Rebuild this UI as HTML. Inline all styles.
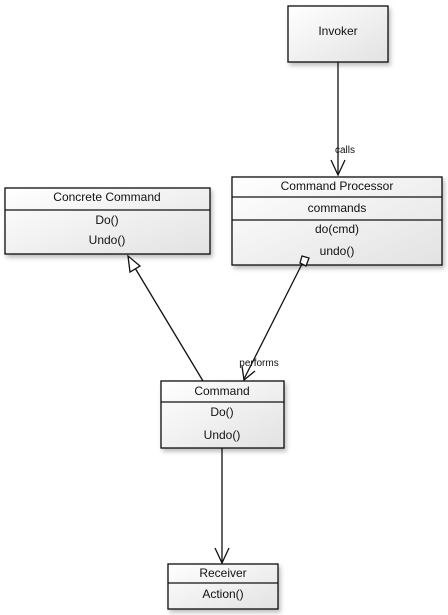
<!DOCTYPE html>
<html><head><meta charset="utf-8"><style>
html,body{margin:0;padding:0;background:#fff;width:448px;height:615px;overflow:hidden}
svg{display:block}
text{font-family:"Liberation Sans",sans-serif;font-size:12px;fill:#111;text-anchor:middle}
</style></head><body>
<svg width="448" height="615" viewBox="0 0 448 615">
<defs>
<linearGradient id="g" x1="0" y1="0" x2="1" y2="1"><stop offset="0" stop-color="#fff"/><stop offset="1" stop-color="#e2e2e2"/></linearGradient>
<filter id="s" x="-10%" y="-10%" width="130%" height="130%"><feDropShadow dx="2" dy="3" stdDeviation="2" flood-color="#000" flood-opacity="0.25"/></filter>
</defs>
<g stroke="#111" stroke-width="1.3" fill="url(#g)">
<!-- Invoker -->
<rect x="288" y="6" width="100" height="56" filter="url(#s)"/>
<!-- Concrete Command -->
<rect x="5" y="188" width="205" height="66" filter="url(#s)"/>
<line x1="5" y1="210" x2="210" y2="210"/>
<!-- Command Processor -->
<rect x="232" y="177" width="210" height="88" filter="url(#s)"/>
<line x1="232" y1="197" x2="442" y2="197"/>
<line x1="232" y1="220" x2="442" y2="220"/>
<!-- Command -->
<rect x="161" y="381" width="123" height="67" filter="url(#s)"/>
<line x1="161" y1="402" x2="284" y2="402"/>
<!-- Receiver -->
<rect x="168" y="564" width="110" height="45" filter="url(#s)"/>
<line x1="168" y1="583" x2="278" y2="583"/>
</g>
<g stroke="#111" stroke-width="1.3" fill="none">
<line x1="338" y1="62" x2="338" y2="175"/>
<polyline points="331,160 338,175 345,160"/>
<line x1="203" y1="381" x2="132" y2="263"/>
<polygon points="128,256 130,272 140,266" fill="#fff"/>
<line x1="303" y1="262" x2="244" y2="379"/>
<polygon points="302,256 309,258 306,266 300,263" fill="#fff"/>
<polyline points="242,366 244,380 255,371"/>
<line x1="222" y1="448" x2="222" y2="563"/>
<polyline points="215,548 222,563 229,548"/>
</g>
<text x="338" y="35">Invoker</text>
<text x="345" y="153" style="font-size:10px">calls</text>
<text x="107" y="201">Concrete Command</text>
<text x="107" y="224">Do()</text>
<text x="107" y="244">Undo()</text>
<text x="337" y="190">Command Processor</text>
<text x="337" y="212">commands</text>
<text x="337" y="233">do(cmd)</text>
<text x="337" y="255">undo()</text>
<text x="259" y="366" style="font-size:10px">performs</text>
<text x="222" y="395">Command</text>
<text x="222" y="416">Do()</text>
<text x="222" y="439">Undo()</text>
<text x="223" y="577">Receiver</text>
<text x="223" y="598">Action()</text>
</svg>
</body></html>
